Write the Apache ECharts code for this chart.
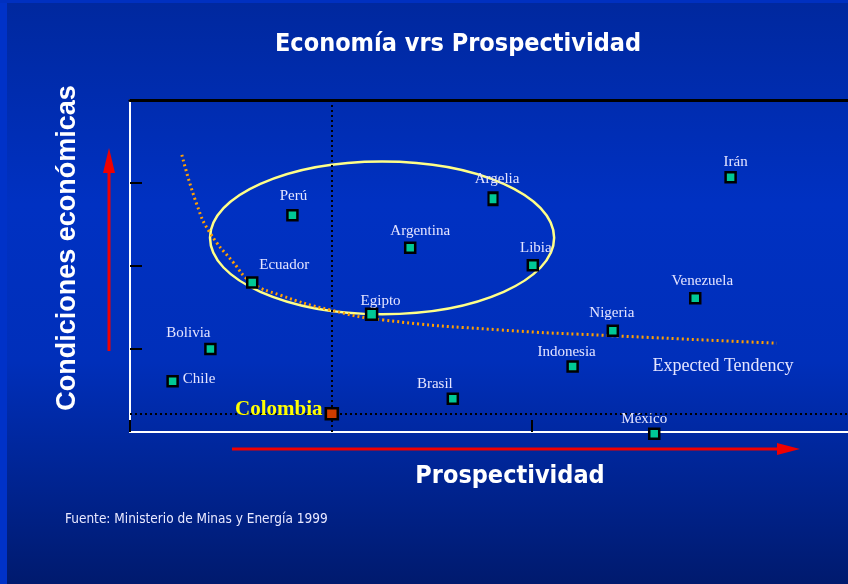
<!DOCTYPE html>
<html>
<head>
<meta charset="utf-8">
<script src="https://cdn.jsdelivr.net/npm/echarts@6/dist/echarts.min.js"></script>
<style>
  html, body { margin: 0; padding: 0; }
  #chart { width: 848px; height: 584px; }
</style>
</head>
<body>
<div id="chart"></div>
<script>
// datos
var countries = ["Chile", "Bolivia", "Ecuador", "Perú", "Colombia", "Egipto", "Argentina", "Brasil",
  "Argelia", "Libia", "Indonesia", "Nigeria", "México", "Venezuela", "Irán"];
var prospectividad = [1.06, 2.0, 3.04, 4.04, 5.02, 6.01, 6.97, 8.03, 9.03, 10.02, 11.01, 12.01, 13.04, 14.06, 14.94];
var condiciones = [0.61, 1.0, 1.8, 2.61, 0.22, 1.42, 2.22, 0.4, 2.81, 2.01, 0.79, 1.22, -0.02, 1.61, 3.07];

// curva "Expected Tendency"
var trendX = [1.29, 1.67, 1.99, 2.56, 3.03, 3.73, 4.98, 6.29, 9.2, 12.01, 16.09];
var trendY = [3.34, 2.73, 2.4, 2.05, 1.8, 1.65, 1.47, 1.35, 1.23, 1.16, 1.07];

// elipse: centro y radios en unidades de los ejes
var ellipseCenter = [6.27, 2.34];
var ellipseRadius = [4.28, 0.92];

var xTicks = [0, 10];
var yTicks = [1, 2, 3];

// ajustes de etiquetas (posicion relativa al marcador)
var labelPos = {
  "Chile": { position: "right", offset: [-1, -2] },
  "Bolivia": { position: "top", offset: [-22, 3] },
  "Ecuador": { position: "top", offset: [32, 1] },
  "Perú": { position: "top", offset: [1, -1] },
  "Colombia": { position: "left", offset: [3, -4] },
  "Egipto": { position: "top", offset: [9, 6] },
  "Argentina": { position: "top", offset: [10, 2] },
  "Brasil": { position: "top", offset: [-18, 4] },
  "Argelia": { position: "top", offset: [4, 0] },
  "Libia": { position: "top", offset: [3, 2] },
  "Indonesia": { position: "top", offset: [-6, 4] },
  "Nigeria": { position: "top", offset: [-1, 1] },
  "México": { position: "top", offset: [-10, 4] },
  "Venezuela": { position: "top", offset: [7, 1] },
  "Irán": { position: "top", offset: [5, 4] }
};

var labelColor = "#e4e4ff";
var serif = "'Liberation Serif', 'DejaVu Serif', serif";
var sans = "'Liberation Sans', Arial, sans-serif";
var narrow = "'Liberation Sans Narrow', 'DejaVu Sans Condensed', 'Liberation Sans', sans-serif";

var pointData = countries.map(function (name, i) {
  var item = {
    name: name,
    value: [prospectividad[i], condiciones[i]],
    label: {
      show: true,
      formatter: name,
      position: labelPos[name].position,
      offset: labelPos[name].offset
    }
  };
  if (name === "Colombia") {
    item.symbolSize = [12, 11];
    item.itemStyle = { color: "#cc3c00" };
    item.label.color = "#ffff00";
    item.label.fontSize = 21;
    item.label.fontWeight = "bold";
  } else if (name === "Egipto") {
    item.symbolSize = 11;
  } else if (name === "Argelia") {
    item.symbolSize = [9, 12];
  }
  return item;
});

var trendData = trendX.map(function (x, i) { return [x, trendY[i]]; });

var myChart = echarts.init(document.getElementById("chart"));
var option = {
  animation: false,
  graphic: [
    {
      type: "rect", z: -100, silent: true,
      shape: { x: 0, y: 0, width: 848, height: 584 },
      style: {
        fill: new echarts.graphic.LinearGradient(0, 0, 0, 1, [
          { offset: 0, color: "#00289e" },
          { offset: 0.35, color: "#0031c2" },
          { offset: 0.62, color: "#002fba" },
          { offset: 1, color: "#001a6e" }
        ])
      }
    },
    // borde claro de la diapositiva
    {
      type: "rect", z: -90, silent: true,
      shape: { x: 0, y: 0, width: 7, height: 584 },
      style: { fill: "#0032c8" }
    },
    {
      type: "rect", z: -90, silent: true,
      shape: { x: 0, y: 0, width: 848, height: 3 },
      style: { fill: "#0030c0" }
    },
    {
      type: "text", x: 458, y: 44,
      style: { text: "Economía vrs Prospectividad", fill: "#fff", font: "bold 25px " + narrow, align: "center", verticalAlign: "middle" }
    },
    {
      type: "text", x: 510, y: 476,
      style: { text: "Prospectividad", fill: "#fff", font: "bold 25px " + narrow, align: "center", verticalAlign: "middle" }
    },
    {
      type: "text", x: 68, y: 248, rotation: Math.PI / 2,
      style: { text: "Condiciones económicas", fill: "#fff", font: "bold 27px " + sans, align: "center", verticalAlign: "middle" }
    },
    {
      type: "text", x: 65, y: 512,
      style: { text: "Fuente: Ministerio de Minas y Energía 1999", fill: "#e8e8ff", font: "13.5px " + narrow }
    },
    {
      type: "text", x: 723, y: 366,
      style: { text: "Expected Tendency", fill: labelColor, font: "18px " + serif, align: "center", verticalAlign: "middle" }
    },
    // flechas rojas
    {
      type: "line", shape: { x1: 109, y1: 351, x2: 109, y2: 170 },
      style: { stroke: "#f00000", lineWidth: 3 }
    },
    {
      type: "polygon", shape: { points: [[109, 148], [103, 173], [115, 173]] },
      style: { fill: "#f00000" }
    },
    {
      type: "line", shape: { x1: 232, y1: 449, x2: 780, y2: 449 },
      style: { stroke: "#f00000", lineWidth: 3 }
    },
    {
      type: "polygon", shape: { points: [[800, 449], [777, 443], [777, 455]] },
      style: { fill: "#f00000" }
    }
  ],
  grid: { left: 130, right: 0, top: 100, bottom: 152 },
  xAxis: [
    {
      type: "value", min: 0, max: 17.86, interval: 10,
      axisLine: { show: true, lineStyle: { color: "#ffffff", width: 2 } },
      axisTick: { show: true, inside: true, length: 12, customValues: xTicks, lineStyle: { color: "#000", width: 2 } },
      axisLabel: { show: false },
      splitLine: { show: false }
    },
    {
      type: "value", position: "top", min: 0, max: 17.86,
      axisLine: { show: true, lineStyle: { color: "#000", width: 3 } },
      axisTick: { show: false }, axisLabel: { show: false }, splitLine: { show: false }
    }
  ],
  yAxis: {
    type: "value", min: 0, max: 4, interval: 1,
    axisLine: { show: true, lineStyle: { color: "#ffffff", width: 2 } },
    axisTick: { show: true, inside: true, length: 12, customValues: yTicks, lineStyle: { color: "#000", width: 2 } },
    axisLabel: { show: false },
    splitLine: { show: false }
  },
  series: [
    {
      type: "custom",
      z: 3,
      silent: true,
      renderItem: function (params, api) {
        var c = api.coord(ellipseCenter);
        var s = api.size([ellipseRadius[0], ellipseRadius[1]]);
        return {
          type: "ellipse",
          shape: { cx: c[0], cy: c[1], rx: s[0], ry: s[1] },
          style: { fill: null, stroke: "#ffff88", lineWidth: 2.5 }
        };
      },
      data: [ellipseCenter]
    },
    {
      type: "line",
      z: 4,
      smooth: true,
      showSymbol: false,
      silent: true,
      data: trendData,
      lineStyle: { color: "#ffa000", width: 3, type: [2, 3] }
    },
    {
      type: "scatter",
      z: 5,
      clip: false,
      symbol: "rect",
      symbolSize: 10,
      itemStyle: { color: "#00c896", borderColor: "#000", borderWidth: 2.5, opacity: 1 },
      label: { color: labelColor, fontFamily: serif, fontSize: 15 },
      data: pointData,
      markLine: {
        silent: true,
        symbol: "none",
        label: { show: false },
        lineStyle: { color: "#000", width: 2, type: [2, 3] },
        data: [
          { xAxis: prospectividad[4] },
          { yAxis: condiciones[4] }
        ]
      }
    }
  ]
};
myChart.setOption(option);
window.onresize = function () {
  myChart.resize();
};
</script>
</body>
</html>
